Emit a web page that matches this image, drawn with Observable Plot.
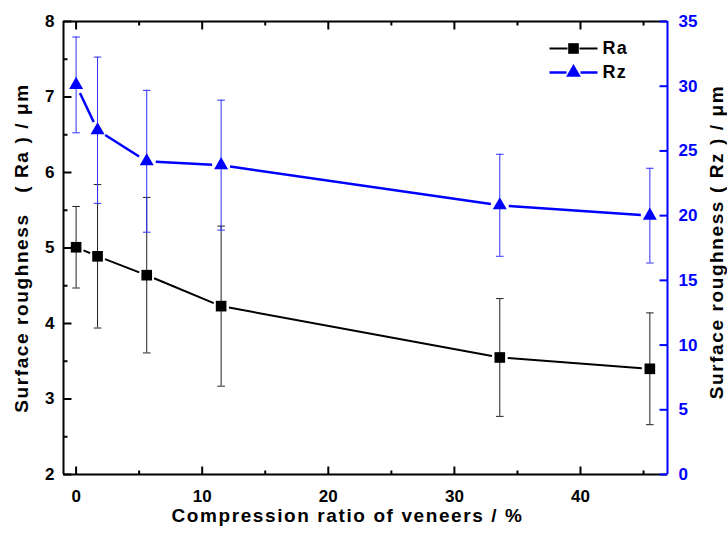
<!DOCTYPE html>
<html>
<head>
<meta charset="utf-8">
<script src="https://cdn.jsdelivr.net/npm/d3@7"></script>
<script src="https://cdn.jsdelivr.net/npm/@observablehq/plot@0.6"></script>
<style>
  html, body { margin: 0; padding: 0; background: #fff; }
  svg { display: block; }
</style>
</head>
<body>
<div id="chart"></div>
<script>
// ---- data ----
const ratio = [0, 1.7, 5.6, 11.5, 33.6, 45.5];          // compression ratio (%)
const ra    = [5.01, 4.89, 4.64, 4.23, 3.55, 3.40];     // Ra (µm)
const raSd  = [0.54, 0.95, 1.03, 1.06, 0.78, 0.74];
const rz    = [30.1, 26.6, 24.2, 23.9, 20.8, 20.0];     // Rz (µm)
const rzSd  = [3.70, 5.65, 5.48, 5.02, 3.94, 3.66];

const xTicks  = [0, 10, 20, 30, 40];
const xMinor  = [5, 15, 25, 35, 45];
const raTicks = [2, 3, 4, 5, 6, 7, 8];
const raMinor = [2.5, 3.5, 4.5, 5.5, 6.5, 7.5];
const rzTicks = [0, 5, 10, 15, 20, 25, 30, 35];
const seriesNames = ["Ra", "Rz"];
const xTitle  = "Compression ratio of veneers / %";
const raTitle = "Surface roughness\u00a0\u00a0\u00a0(\u00a0Ra\u00a0)\u00a0/\u00a0μm";
const rzTitle = "Surface roughness\u00a0(\u00a0Rz\u00a0)\u00a0/\u00a0μm";

// ---- dual axis mapping (Rz 0–35 shares the Ra 2–8 frame) ----
const RA_DOMAIN = [2, 8];
const RZ_DOMAIN = [0, 35];
const X_DOMAIN = [-1, 46.9];
const toRa = v => RA_DOMAIN[0] + (v - RZ_DOMAIN[0]) * (RA_DOMAIN[1] - RA_DOMAIN[0]) / (RZ_DOMAIN[1] - RZ_DOMAIN[0]);
const fromRa = v => RZ_DOMAIN[0] + (v - RA_DOMAIN[0]) * (RZ_DOMAIN[1] - RZ_DOMAIN[0]) / (RA_DOMAIN[1] - RA_DOMAIN[0]);

const BLUE = "#0000ff";
const BAR_BLUE = "#3030ff";
const FONT = "'Liberation Sans', Arial, sans-serif";

const idx = d3.range(ratio.length);
const seg = idx.slice(1);

const lineShape = { draw(ctx, l) { ctx.moveTo(0, 0); ctx.lineTo(0, -l); } };
const capSymbol = { draw(ctx, size) { const r = Math.sqrt(size / Math.PI); ctx.moveTo(-r, 0); ctx.lineTo(r, 0); } };

const ticks = (data, anchor, rotate, length, stroke, key, map = d => d) =>
  Plot.vector(data, {
    [key]: map, frameAnchor: anchor, rotate, length, anchor: "start",
    shape: lineShape, stroke, strokeWidth: 2, strokeLinecap: "butt"
  });

const raCaps = idx.flatMap(i => [{x: ratio[i], y: ra[i] - raSd[i]}, {x: ratio[i], y: ra[i] + raSd[i]}]);
const rzCaps = idx.flatMap(i => [{x: ratio[i], y: toRa(rz[i] - rzSd[i])}, {x: ratio[i], y: toRa(rz[i] + rzSd[i])}]);

const label = (txt, opts) => Plot.text([txt], {
  text: d => d, textAnchor: "middle", lineAnchor: "middle", fontWeight: "bold", fill: "#000", ...opts
});

const chart = Plot.plot({
  width: 727,
  height: 533,
  marginLeft: 63,
  marginRight: 60,
  marginTop: 21,
  marginBottom: 59,
  style: `font-family: ${FONT}; font-weight: bold; font-size: 17px; background: #fff; color: #000; overflow: visible;`,
  x: { domain: X_DOMAIN },
  y: { domain: RA_DOMAIN },
  marks: [
    // error bars
    Plot.ruleX(idx, { x: i => ratio[i], y1: i => ra[i] - raSd[i], y2: i => ra[i] + raSd[i], stroke: "#222", strokeWidth: 1 }),
    Plot.dot(raCaps, { x: "x", y: "y", r: 3.8, symbol: capSymbol, fill: "none", stroke: "#222", strokeWidth: 1 }),
    Plot.ruleX(idx, { x: i => ratio[i], y1: i => toRa(rz[i] - rzSd[i]), y2: i => toRa(rz[i] + rzSd[i]), stroke: BAR_BLUE, strokeWidth: 1 }),
    Plot.dot(rzCaps, { x: "x", y: "y", r: 3.8, symbol: capSymbol, fill: "none", stroke: BAR_BLUE, strokeWidth: 1 }),

    // connecting lines (with Origin-style gaps at the symbols)
    Plot.arrow(seg, { x1: i => ratio[i - 1], y1: i => ra[i - 1], x2: i => ratio[i], y2: i => ra[i],
      headLength: 0, insetStart: 8, insetEnd: 8, stroke: "#000", strokeWidth: 2, strokeLinecap: "butt" }),
    Plot.arrow(seg, { x1: i => ratio[i - 1], y1: i => toRa(rz[i - 1]), x2: i => ratio[i], y2: i => toRa(rz[i]),
      headLength: 0, insetStart: 9, insetEnd: 9, stroke: BLUE, strokeWidth: 2.5, strokeLinecap: "butt" }),

    // symbols
    Plot.dot(idx, { x: i => ratio[i], y: i => ra[i], symbol: "square", r: 6, fill: "#000", stroke: "none" }),
    Plot.dot(idx, { x: i => ratio[i], y: i => toRa(rz[i]), symbol: "triangle", r: 5.2, fill: BLUE, stroke: "none" }),

    // frame
    Plot.ruleY([RA_DOMAIN[0]], { stroke: "#000", strokeWidth: 2 }),
    Plot.ruleY([RA_DOMAIN[1]], { stroke: "#000", strokeWidth: 2 }),
    Plot.ruleX([X_DOMAIN[0]], { stroke: "#000", strokeWidth: 2 }),
    Plot.ruleX([X_DOMAIN[1]], { stroke: BLUE, strokeWidth: 2 }),

    // inward ticks
    ticks(xTicks, "bottom", 0, 8, "#000", "x"),
    ticks(xMinor, "bottom", 0, 4, "#000", "x"),
    ticks(xTicks, "top", 180, 8, "#000", "x"),
    ticks(xMinor, "top", 180, 4, "#000", "x"),
    ticks(raTicks, "left", 90, 8, "#000", "y"),
    ticks(raMinor, "left", 90, 4, "#000", "y"),
    ticks(rzTicks, "right", -90, 8, BLUE, "y", d => toRa(d)),

    // tick labels
    Plot.axisX({ ticks: xTicks, tickFormat: d => String(d), tickSize: 0, tickPadding: 15.5, fontSize: 17, fontWeight: "bold", label: null }),
    Plot.axisY({ anchor: "left", ticks: raTicks, tickFormat: d => String(d), tickSize: 0, tickPadding: 9, fontSize: 17, fontWeight: "bold", label: null }),
    Plot.axisY({ anchor: "right", ticks: rzTicks.map(toRa), tickFormat: d => String(Math.round(fromRa(d))),
      tickSize: 0, tickPadding: 11, fontSize: 17, fontWeight: "bold", color: BLUE, label: null }),

    // axis titles
    label(xTitle,  { frameAnchor: "bottom", dx: -18, dy: 41, fontSize: 19 }),
    label(raTitle, { frameAnchor: "left", dx: -42, dy: 0, rotate: -90, fontSize: 19 }),
    label(rzTitle, { frameAnchor: "right", dx: 49, dy: -6, rotate: -90, fontSize: 19 }),

    // legend
    Plot.vector([0], { frameAnchor: "top-left", dx: 486, dy: 27, rotate: 90, length: 18, anchor: "start", shape: lineShape, stroke: "#000", strokeWidth: 2, strokeLinecap: "butt" }),
    Plot.vector([0], { frameAnchor: "top-left", dx: 516, dy: 27, rotate: 90, length: 18, anchor: "start", shape: lineShape, stroke: "#000", strokeWidth: 2, strokeLinecap: "butt" }),
    Plot.dot([0], { frameAnchor: "top-left", dx: 510, dy: 27, symbol: "square", r: 6, fill: "#000", stroke: "none" }),
    label(seriesNames[0], { frameAnchor: "top-left", dx: 539, dy: 27, textAnchor: "start", fontSize: 18 }),
    Plot.vector([0], { frameAnchor: "top-left", dx: 486, dy: 51, rotate: 90, length: 17, anchor: "start", shape: lineShape, stroke: BLUE, strokeWidth: 2.5, strokeLinecap: "butt" }),
    Plot.vector([0], { frameAnchor: "top-left", dx: 517, dy: 51, rotate: 90, length: 17, anchor: "start", shape: lineShape, stroke: BLUE, strokeWidth: 2.5, strokeLinecap: "butt" }),
    Plot.dot([0], { frameAnchor: "top-left", dx: 510, dy: 51, symbol: "triangle", r: 5.5, fill: BLUE, stroke: "none" }),
    label(seriesNames[1], { frameAnchor: "top-left", dx: 539, dy: 51, textAnchor: "start", fontSize: 18 })
  ]
});

document.getElementById("chart").appendChild(chart);

// slightly widened lettering as in the reference
const spaced = new Set([xTitle, raTitle, rzTitle]);
d3.select(chart).selectAll("text").each(function () {
  if (spaced.has(this.textContent)) this.style.letterSpacing = "1.6px";
  if (seriesNames.includes(this.textContent)) this.style.letterSpacing = "1.2px";
});
</script>
</body>
</html>
